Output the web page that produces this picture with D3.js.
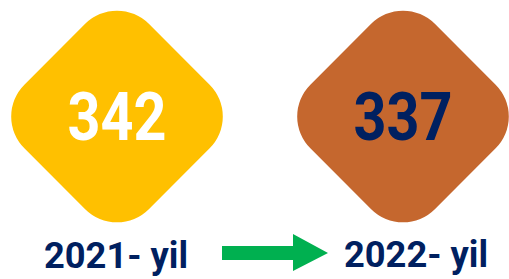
<!DOCTYPE html>
<html><head><meta charset="utf-8">
<script src="https://cdn.jsdelivr.net/npm/d3@7"></script>
<style>html,body{margin:0;padding:0;background:#fff;overflow:hidden}</style>
</head><body>
<script>
const years = ["2021- yil", "2022- yil"];
const values = [342, 337];
const fills = ["#FFC000", "#C5672E"];
const valueColors = ["#FFFFFF", "#002060"];
const labelColor = "#002060";
const arrowColor = "#00B050";

const W = 509, H = 279;
const svg = d3.select("body").append("svg").attr("width", W).attr("height", H);

const x = d3.scalePoint().domain(years).range([117, 403]);
const cy = 116.5;
const side = 176, r = 45;

const g = svg.selectAll("g.item").data(years).join("g").attr("class", "item");

g.append("rect")
  .attr("x", -side/2).attr("y", -side/2)
  .attr("width", side).attr("height", side)
  .attr("rx", r).attr("ry", r)
  .attr("transform", d => `translate(${x(d)},${cy}) rotate(45)`)
  .attr("fill", (d,i) => fills[i]);

g.append("text")
  .attr("x", d => x(d)).attr("y", 140)
  .attr("text-anchor", "middle")
  .attr("font-family", "Roboto")
  .attr("font-weight", 700)
  .attr("font-size", 66)
  .attr("textLength", 99)
  .attr("lengthAdjust", "spacingAndGlyphs")
  .attr("fill", (d,i) => valueColors[i])
  .text((d,i) => values[i]);

g.append("text")
  .attr("x", (d,i) => i === 0 ? 116 : 416).attr("y", (d,i) => i === 0 ? 268 : 267)
  .attr("text-anchor", "middle")
  .attr("font-family", "Roboto")
  .attr("font-weight", 700)
  .attr("font-size", 36)
  .attr("textLength", 144)
  .attr("lengthAdjust", "spacingAndGlyphs")
  .attr("fill", labelColor)
  .text(d => d);

// arrow
const ay = 253;
svg.append("path")
  .attr("d", `M222,${ay-7} L293,${ay-7} L293,234 L328,${ay} L293,271 L293,${ay+7} L222,${ay+7} Z`)
  .attr("fill", arrowColor);
</script>
</body></html>
